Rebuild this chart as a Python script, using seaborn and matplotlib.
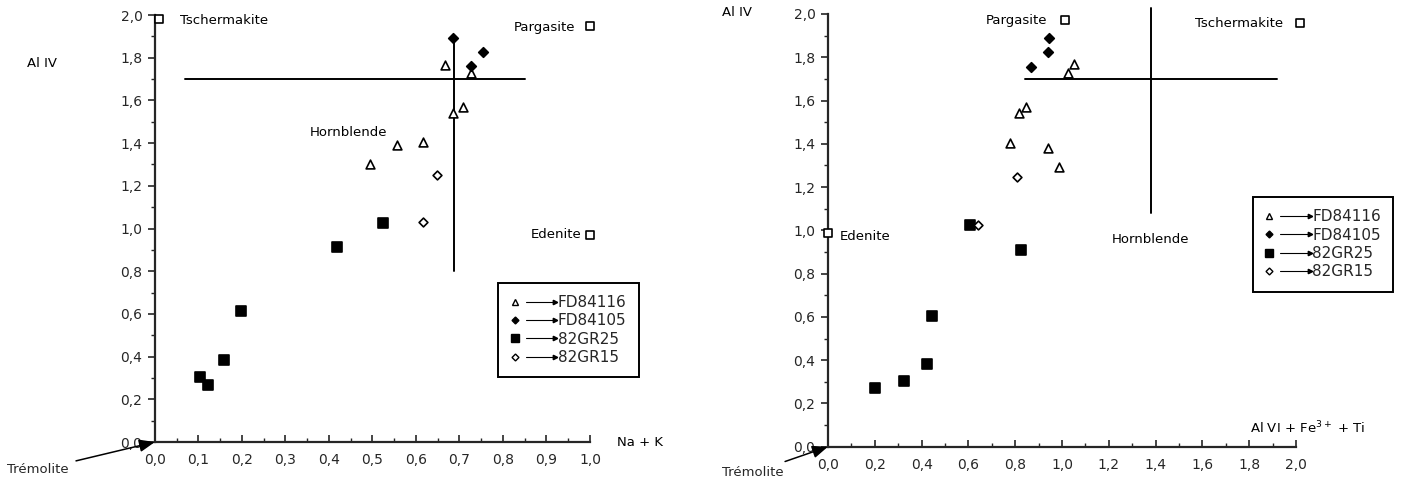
import matplotlib
matplotlib.use("Agg")
import matplotlib.pyplot as plt
import seaborn as sns
import pandas as pd
from matplotlib.lines import Line2D
from matplotlib.legend_handler import HandlerBase
from matplotlib.ticker import MultipleLocator, FuncFormatter

# ---------------- data: left panel (Na + K vs Al IV) ----------------
L_fd84116_x = [0.667, 0.726, 0.709, 0.686, 0.617, 0.557, 0.494]
L_fd84116_y = [1.766, 1.727, 1.571, 1.542, 1.407, 1.391, 1.302]
L_fd84105_x = [0.686, 0.753, 0.726]
L_fd84105_y = [1.894, 1.825, 1.763]
L_82gr25_x = [0.525, 0.418, 0.198, 0.159, 0.103, 0.123]
L_82gr25_y = [1.027, 0.915, 0.612, 0.384, 0.303, 0.267]
L_82gr15_x = [0.649, 0.617]
L_82gr15_y = [1.251, 1.029]
L_end_names = ["Tschermakite", "Pargasite", "Edenite"]
L_end_x = [0.01, 1.0, 1.0]
L_end_y = [1.98, 1.95, 0.97]
L_hline = {"y": 1.70, "x0": 0.07, "x1": 0.85}
L_vline = {"x": 0.687, "y0": 0.80, "y1": 1.90}

# ---------------- data: right panel (Al VI + Fe3+ + Ti vs Al IV) ----------------
R_fd84116_x = [0.846, 0.818, 0.778, 0.942, 0.989, 1.027, 1.051]
R_fd84116_y = [1.569, 1.541, 1.403, 1.380, 1.295, 1.729, 1.769]
R_fd84105_x = [0.868, 0.939, 0.944]
R_fd84105_y = [1.754, 1.826, 1.890]
R_82gr25_x = [0.607, 0.823, 0.446, 0.424, 0.325, 0.201]
R_82gr25_y = [1.025, 0.907, 0.605, 0.382, 0.302, 0.271]
R_82gr15_x = [0.806, 0.643]
R_82gr15_y = [1.248, 1.025]
R_end_names = ["Edenite", "Pargasite", "Tschermakite"]
R_end_x = [0.0, 1.013, 2.017]
R_end_y = [0.99, 1.97, 1.957]
R_hline = {"y": 1.70, "x0": 0.84, "x1": 1.92}
R_vline = {"x": 1.38, "y0": 1.08, "y1": 2.03}

series_labels = ["FD84116", "FD84105", "82GR25", "82GR15"]

sns.set_style("ticks")
plt.rcParams["font.family"] = ["DejaVu Sans"]
plt.rcParams["mathtext.fontset"] = "dejavusans"

fig = plt.figure(figsize=(14.01, 4.86), dpi=100)
axL = fig.add_axes([0.1106, 0.0905, 0.3105, 0.8786])
axR = fig.add_axes([0.5910, 0.0809, 0.3340, 0.8903])

styles = [
    dict(marker="^", color="white", s=40),
    dict(marker="D", color="black", s=24),
    dict(marker="s", color="black", s=44),
    dict(marker="D", color="white", s=20),
]


def draw_series(ax, xs_list, ys_list):
    for xs, ys, st, lab in zip(xs_list, ys_list, styles, series_labels):
        df = pd.DataFrame({"x": xs, "y": ys})
        sns.scatterplot(data=df, x="x", y="y", ax=ax, marker=st["marker"],
                        color=st["color"], edgecolor="black", linewidth=1.2,
                        s=st["s"], clip_on=False, zorder=4, legend=False)


class ArrowHandler(HandlerBase):
    def create_artists(self, legend, orig_handle, xdescent, ydescent,
                       width, height, fontsize, trans):
        y = height / 2 - ydescent
        x0 = -xdescent
        mk = Line2D([x0 + 3], [y], linestyle="none",
                    marker=orig_handle.get_marker(),
                    markersize=orig_handle.get_markersize(),
                    markerfacecolor=orig_handle.get_markerfacecolor(),
                    markeredgecolor="black", markeredgewidth=1)
        ln = Line2D([x0 + 11, x0 + width - 1], [y, y], color="black", lw=0.8)
        hd = Line2D([x0 + width - 1], [y], linestyle="none", marker=">",
                    markersize=3.2, color="black")
        for a in (mk, ln, hd):
            a.set_transform(trans)
        return [mk, ln, hd]


def make_legend(ax, anchor):
    handles = [
        Line2D([], [], marker="^", markerfacecolor="white", markersize=4.5, linestyle="none"),
        Line2D([], [], marker="D", markerfacecolor="black", markersize=3.5, linestyle="none"),
        Line2D([], [], marker="s", markerfacecolor="black", markersize=5.5, linestyle="none"),
        Line2D([], [], marker="D", markerfacecolor="white", markersize=3.5, linestyle="none"),
    ]
    leg = ax.legend(handles, series_labels, loc="upper left", bbox_to_anchor=anchor,
                    borderaxespad=0, fontsize=11, handlelength=3.0, handletextpad=0.1,
                    labelspacing=0.22, borderpad=0.8, fancybox=False, framealpha=1,
                    edgecolor="black",
                    handler_map={h: ArrowHandler() for h in handles})
    leg.get_frame().set_linewidth(1.4)
    leg.set_zorder(6)


fmt = FuncFormatter(lambda v, p: f"{v:.1f}".replace(".", ","))


def style_axes(ax, xmax, xmajor, xminor):
    ax.set_xlim(0, xmax)
    ax.set_ylim(0, 2.0)
    sns.despine(ax=ax)
    for sp in ("left", "bottom"):
        ax.spines[sp].set_linewidth(1.6)
    ax.xaxis.set_major_locator(MultipleLocator(xmajor))
    ax.xaxis.set_minor_locator(MultipleLocator(xminor))
    ax.yaxis.set_major_locator(MultipleLocator(0.2))
    ax.yaxis.set_minor_locator(MultipleLocator(0.1))
    ax.xaxis.set_major_formatter(fmt)
    ax.yaxis.set_major_formatter(fmt)
    ax.tick_params(axis="x", which="major", direction="in", length=5, width=1.2,
                   labelsize=10, pad=8)
    ax.tick_params(axis="x", which="minor", direction="in", length=3, width=1)
    ax.tick_params(axis="y", which="major", direction="out", length=5, width=1.2,
                   labelsize=10, pad=4)
    ax.tick_params(axis="y", which="minor", direction="out", length=3, width=1)
    ax.set_xlabel("")
    ax.set_ylabel("")


arrow_style = dict(arrowstyle="-|>,head_length=1.0,head_width=0.4",
                   color="black", lw=1.1, shrinkA=3, shrinkB=0)

# ---------------- left panel ----------------
draw_series(axL, [L_fd84116_x, L_fd84105_x, L_82gr25_x, L_82gr15_x],
            [L_fd84116_y, L_fd84105_y, L_82gr25_y, L_82gr15_y])
sns.scatterplot(x=L_end_x, y=L_end_y, ax=axL, marker="s", color="white",
                edgecolor="black", linewidth=1.2, s=28, clip_on=False, zorder=4, legend=False)
axL.plot([L_hline["x0"], L_hline["x1"]], [L_hline["y"]] * 2, color="black", lw=1.4, zorder=3)
axL.plot([L_vline["x"]] * 2, [L_vline["y0"], L_vline["y1"]], color="black", lw=1.4, zorder=3)
style_axes(axL, 1.0, 0.1, 0.05)
tk = dict(fontsize=9.5, color="black")
axL.text(0.057, 1.975, L_end_names[0], ha="left", va="center", **tk)
axL.text(0.966, 1.94, L_end_names[1], ha="right", va="center", **tk)
axL.text(0.980, 0.97, L_end_names[2], ha="right", va="center", **tk)
axL.text(0.357, 1.452, "Hornblende", ha="left", va="center", **tk)
axL.text(-0.294, 1.775, "Al IV", ha="left", va="center", **tk)
axL.text(1.062, 0.0, "Na + K", ha="left", va="center", **tk)
axL.annotate("Trémolite", xy=(0, 0), xytext=(-0.34, -0.131), ha="left", va="center",
             annotation_clip=False, fontsize=9.5, arrowprops=arrow_style)
make_legend(axL, (0.789, 0.373))

# ---------------- right panel ----------------
draw_series(axR, [R_fd84116_x, R_fd84105_x, R_82gr25_x, R_82gr15_x],
            [R_fd84116_y, R_fd84105_y, R_82gr25_y, R_82gr15_y])
sns.scatterplot(x=R_end_x, y=R_end_y, ax=axR, marker="s", color="white",
                edgecolor="black", linewidth=1.2, s=28, clip_on=False, zorder=4, legend=False)
axR.plot([R_hline["x0"], R_hline["x1"]], [R_hline["y"]] * 2, color="black", lw=1.4, zorder=3)
axR.plot([R_vline["x"]] * 2, [R_vline["y0"], R_vline["y1"]], color="black", lw=1.4,
         zorder=3, clip_on=False)
style_axes(axR, 2.0, 0.2, 0.1)
axR.text(0.051, 0.97, R_end_names[0], ha="left", va="center", **tk)
axR.text(0.936, 1.972, R_end_names[1], ha="right", va="center", **tk)
axR.text(1.944, 1.958, R_end_names[2], ha="right", va="center", **tk)
axR.text(1.214, 0.956, "Hornblende", ha="left", va="center", **tk)
axR.text(-0.453, 2.005, "Al IV", ha="left", va="center", **tk)
axR.text(1.803, 0.088, r"Al VI + Fe$^{3+}$ + Ti", ha="left", va="center", **tk)
axR.annotate("Trémolite", xy=(0, 0), xytext=(-0.453, -0.12), ha="left", va="center",
             annotation_clip=False, fontsize=9.5, arrowprops=arrow_style)
make_legend(axR, (0.908, 0.577))

fig.savefig("out.png", dpi=100)
